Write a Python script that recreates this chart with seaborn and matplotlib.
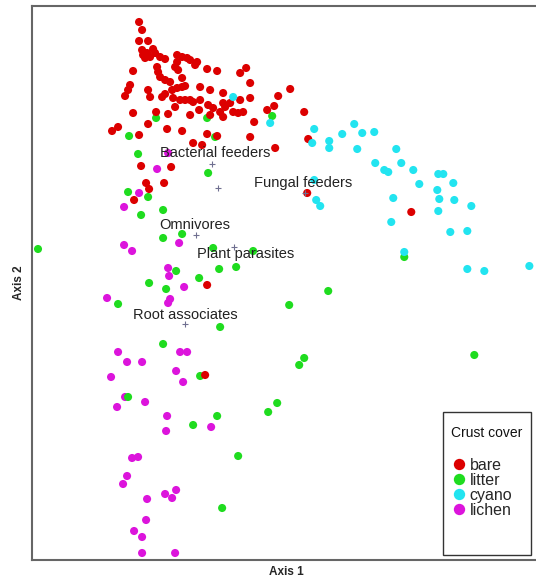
import numpy as np
import pandas as pd
import seaborn as sns
import matplotlib
matplotlib.use("Agg")
import matplotlib.pyplot as plt
from matplotlib.patches import Rectangle

# ordination scores (axis 2 grows downwards here)
bare = [(139,22),(142,30),(139,41),(148,41),(142,50),(143,55),(147,53),(153,49),(155,53),(145,58),
        (150,57),(160,57),(165,59),(177,55),(182,57),(187,58),(190,60),(197,62),(195,65),(177,62),
        (175,67),(157,67),(158,72),(160,77),(165,80),(170,82),(178,70),(182,78),(207,69),(217,71),
        (240,73),(246,68),(133,71),(130,85),(128,90),(125,96),(148,90),(150,97),(162,97),(165,94),
        (172,90),(177,88),(182,87),(185,86),(173,98),(180,100),(175,107),(185,100),(190,100),(193,102),
        (200,87),(210,90),(200,100),(208,105),(213,108),(220,112),(223,93),(223,103),(225,107),(230,103),
        (240,100),(250,98),(250,83),(278,96),(290,89),(233,112),(238,113),(243,112),(223,117),(210,115),
        (199,110),(190,115),(168,114),(156,112),(133,113),(148,124),(167,129),(182,131),(207,134),(217,136),
        (250,137),(254,122),(267,110),(274,106),(304,112),(308,139),(275,148),(112,131),(118,127),(139,135),
        (193,143),(202,145),(141,166),(171,167),(164,183),(146,183),(149,189),(307,193),(411,212),(134,200),
        (207,285),(205,375)]
litter = [(156,118),(207,118),(272,116),(129,136),(215,137),(138,154),(208,173),(128,192),(148,197),
          (163,210),(141,215),(182,234),(163,238),(38,249),(213,248),(253,251),(176,271),(219,269),
          (236,267),(199,278),(149,283),(166,289),(118,304),(289,305),(220,327),(163,344),(200,376),
          (299,365),(304,358),(128,397),(277,403),(268,412),(217,416),(193,425),(238,456),(222,508),
          (404,257),(328,291),(474,355)]
cyano = [(233,97),(270,123),(314,129),(312,143),(329,141),(329,148),(342,134),(354,124),(362,133),
         (374,132),(357,149),(396,149),(375,163),(401,163),(384,170),(388,172),(413,170),(438,174),
         (443,174),(453,183),(419,184),(437,190),(439,199),(454,200),(393,198),(471,206),(438,211),
         (391,222),(450,232),(467,231),(314,180),(316,200),(320,206),(404,252),(467,269),(484,271),
         (529,266)]
lichen = [(168,153),(157,169),(139,193),(124,207),(179,243),(124,245),(132,251),(168,268),(169,276),
          (184,287),(107,298),(170,299),(168,303),(118,352),(180,352),(187,352),(127,362),(142,362),
          (176,371),(111,377),(183,382),(117,407),(145,402),(167,416),(166,431),(211,427),(132,458),
          (138,457),(127,476),(123,484),(176,490),(165,494),(172,498),(147,499),(146,520),(134,531),
          (142,537),(142,553),(175,553),(125,397)]

guilds = ["Bacterial feeders", "Fungal feeders", "Omnivores", "Plant parasites", "Root associates"]
guild_x = [212, 305, 196, 234, 185]
guild_y = [164, 193, 235, 247, 324]
label_x = [160, 254, 159, 197, 133]
label_y = [153, 183, 225, 254, 315]
extra_cross = (218, 188)

cover_order = ["bare", "litter", "cyano", "lichen"]
palette = {"bare": "#dc0000", "litter": "#1fdc1f", "cyano": "#22e4f0", "lichen": "#dc14dc"}

frames = []
for name, pts in [("lichen", lichen), ("litter", litter), ("bare", bare), ("cyano", cyano)]:
    arr = np.array(pts)
    frames.append(pd.DataFrame({"ax1": arr[:, 0], "ax2": arr[:, 1], "cover": name}))
df = pd.concat(frames, ignore_index=True)

sns.set_style("white")
plt.rcParams["font.family"] = ["Liberation Sans", "DejaVu Sans"]

W, H = 536, 581
fig = plt.figure(figsize=(W / 100, H / 100), dpi=100)
ax = fig.add_axes([32/W, 1 - 560/H, 1 - 32/W + 0.01, 554/H])

sns.scatterplot(data=df, x="ax1", y="ax2", hue="cover", hue_order=cover_order,
                palette=palette, s=34, linewidth=0, ax=ax)
handles, labels = ax.get_legend_handles_labels()
ax.get_legend().remove()

cx = guild_x + [extra_cross[0]]
cy = guild_y + [extra_cross[1]]
ax.scatter(cx, cy, marker="+", s=22, color="#6f6f90", linewidths=0.8, zorder=3)
for lab, x, y in zip(guilds, label_x, label_y):
    ax.text(x, y, lab, fontsize=10.5, color="#222222", va="center", ha="left", zorder=4)

ax.set_xlim(32, 541)
ax.set_ylim(560, 6)
ax.set_xticks([])
ax.set_yticks([])
ax.set_xlabel("Axis 1", fontsize=8.5, fontweight="bold", labelpad=4)
ax.set_ylabel("Axis 2", fontsize=8.5, fontweight="bold", labelpad=5)
for side, sp in ax.spines.items():
    sp.set_color("#666666")
    sp.set_linewidth(1.5)
ax.spines["right"].set_visible(False)

# legend: box and title drawn separately so the padding matches
fig.patches.append(Rectangle((443/W, 1 - 555/H), 88/W, 143/H, transform=fig.transFigure,
                             fill=True, facecolor="white", edgecolor="#333333",
                             linewidth=1.0, zorder=5))
fig.text(487/W, 1 - 433/H, "Crust cover", fontsize=10, ha="center", va="center",
         color="#111111", zorder=6)
leg = fig.legend(handles, labels, loc="upper left", bbox_to_anchor=(453/W, 1 - 458/H),
                 bbox_transform=fig.transFigure, frameon=False,
                 fontsize=11.5, markerscale=1.4, handletextpad=0.25,
                 labelspacing=0.0, borderpad=0, borderaxespad=0, handlelength=0.8)
leg.set_zorder(7)

fig.savefig("out.png", dpi=100)
